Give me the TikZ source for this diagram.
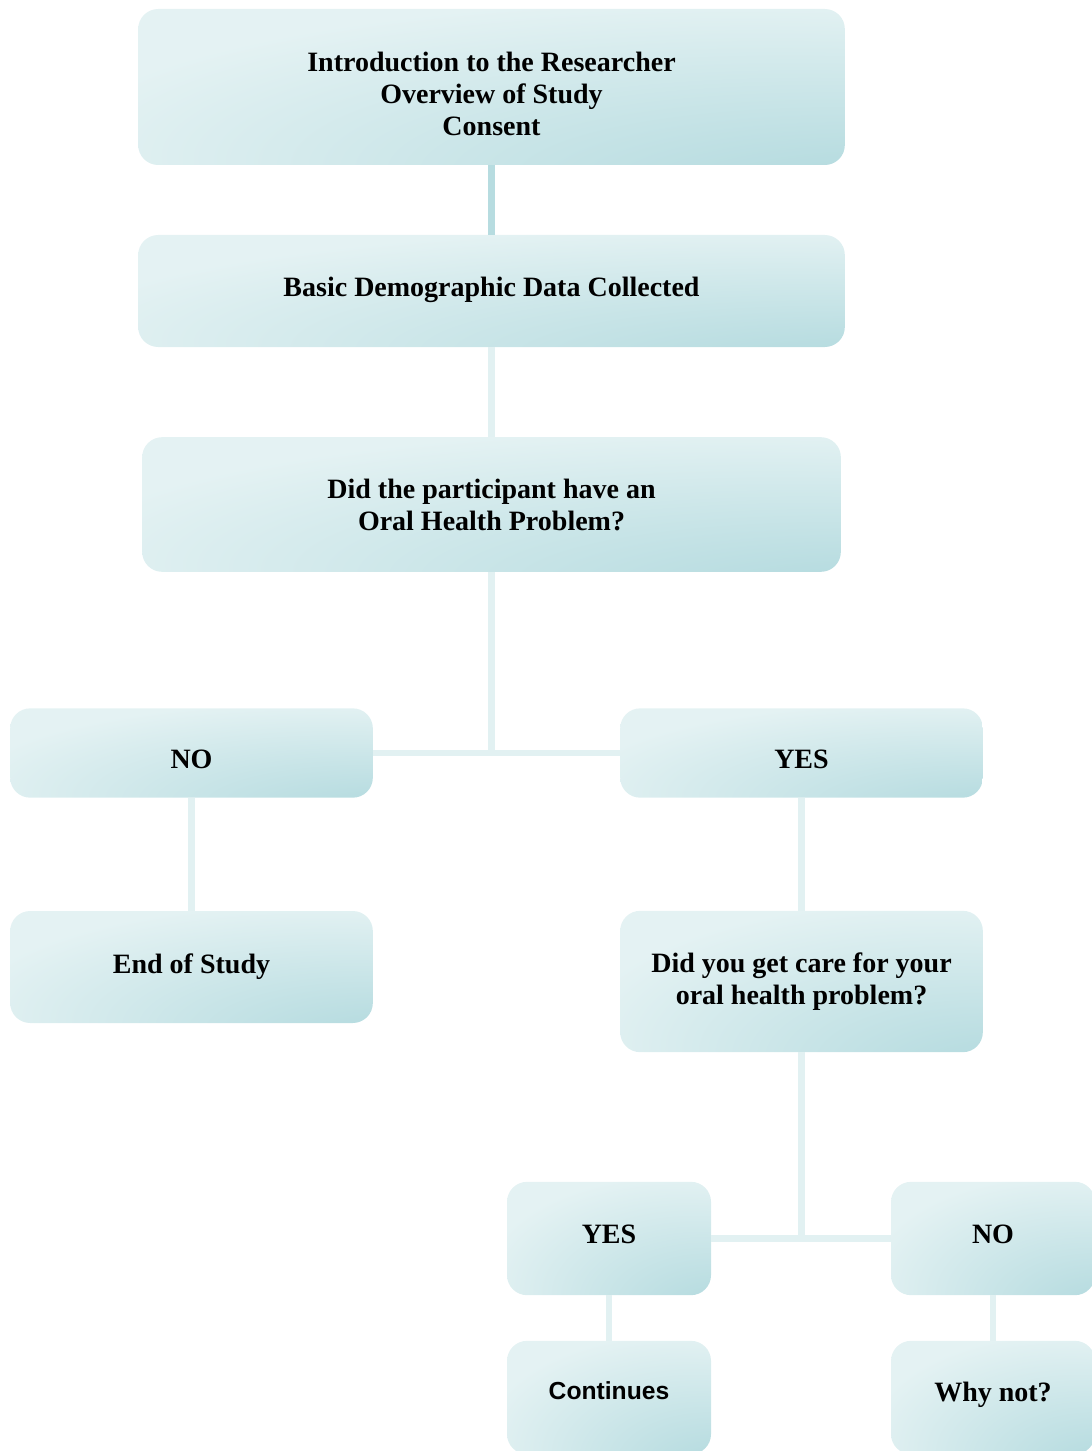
\documentclass[tikz,border=0pt]{standalone}
\usepackage{fontspec}
\setmainfont{Liberation Serif}
\newfontfamily\cbsans{Liberation Sans}
\usetikzlibrary{positioning}

\definecolor{boxlight}{HTML}{E4F2F3}
\definecolor{boxdark}{HTML}{B7DCE0}
\definecolor{linklight}{HTML}{E2F1F2}
\pgfdeclareradialshading{stageshade}{\pgfpoint{32bp}{-38bp}}{color(0bp)=(boxdark); color(10bp)=(boxdark); color(48bp)=(boxlight); color(100bp)=(boxlight)}

\tikzset{
  stage/.style={rounded corners=15pt, shading=stageshade, align=center,
    font=\fontsize{21}{24}\selectfont\bfseries, inner sep=0pt},
  link/.style={line width=5.2pt, draw=linklight},
}

\begin{document}
\begin{tikzpicture}[x=0.75pt, y=-0.75pt]
        \useasboundingbox (0,0) rectangle (1091,1451);
        % main column
        \node[stage, minimum width=530pt, minimum height=117pt] (intro) at (491.5,87) {\rule{0pt}{25pt}Introduction to the Researcher\\Overview of Study\\Consent};
        \node[stage, minimum width=530pt, minimum height=84pt, text depth=6pt] (demo) at (491.5,291) {Basic Demographic Data Collected};
        \node[stage, minimum width=524pt, minimum height=101pt] (problem) at (491.5,504.5) {Did the participant have an\\Oral Health Problem?};
        % first split
        \node[stage, minimum width=272pt, minimum height=67pt, text height=23pt] (no1) at (191.5,753) {NO};
        \node[stage, minimum width=272pt, minimum height=67pt, text height=23pt] (yes1) at (801.5,753) {YES};
        \node[stage, minimum width=272pt, minimum height=84pt] (endstudy) at (191.5,967) {End of Study};
        \node[stage, minimum width=272pt, minimum height=106pt] (care) at (801.5,981.5) {Did you get care for your\\oral health problem?};
        % second split
        \node[stage, minimum width=153pt, minimum height=85pt, text depth=6.5pt] (yes2) at (609,1238.5) {YES};
        \node[stage, minimum width=153pt, minimum height=85pt, text depth=6.5pt] (no2) at (993,1238.5) {NO};
        \node[stage, minimum width=153pt, minimum height=85pt, text depth=10pt, font=\cbsans\fontsize{18.5}{22}\selectfont\bfseries] (cont) at (609,1397.5) {Continues};
        \node[stage, minimum width=153pt, minimum height=85pt, text depth=8.5pt] (whynot) at (993,1397.5) {Why not?};

        \draw[link, draw=boxdark] (intro) -- (demo);
        \draw[link] (demo) -- (problem);
        \draw[link] (problem) -- (problem |- no1);
        \draw[link] (no1) -- (yes1);
        \draw[link] (no1) -- (endstudy);
        \draw[link] (yes1) -- (care);
        \draw[link] (care) -- (care |- yes2);
        \draw[link] (yes2) -- (no2);
        \draw[link] (yes2) -- (cont);
        \draw[link] (no2) -- (whynot);
    \end{tikzpicture}
\end{document}
